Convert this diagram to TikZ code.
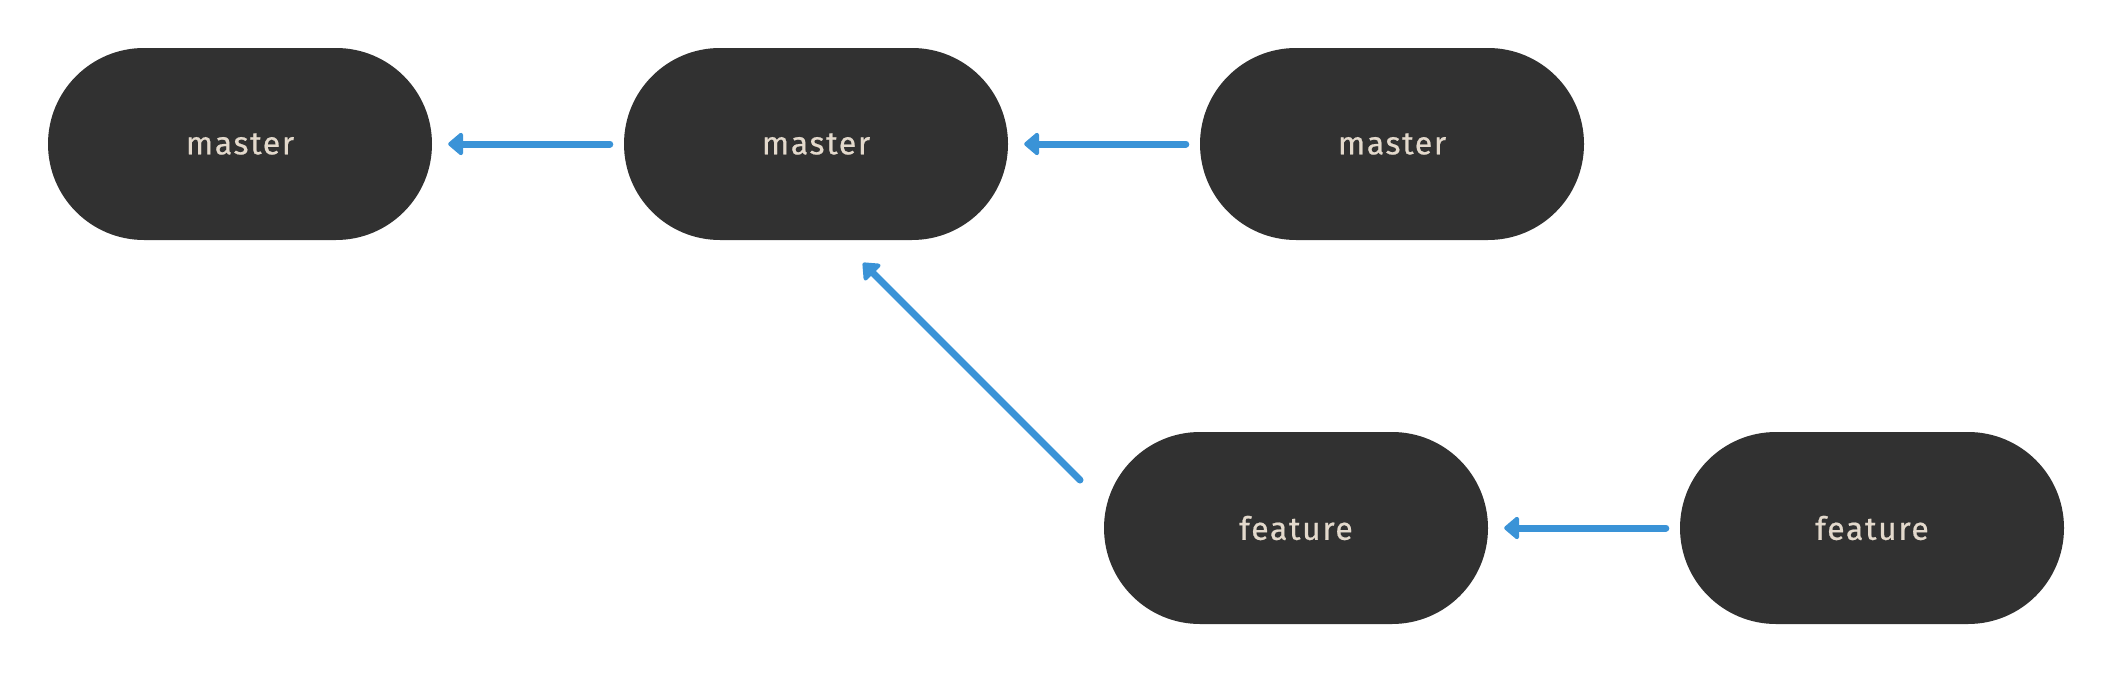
\documentclass[tikz,border=0pt]{standalone}
\usepackage{fontspec}
\setmainfont{Fira Sans}[LetterSpace=5,FakeBold=0.6]
\usetikzlibrary{arrows.meta,calc}
\definecolor{nodefill}{HTML}{313131}
\definecolor{labeltext}{HTML}{E3D9CC}
\definecolor{arrowblue}{HTML}{3A93D7}
\tikzset{
  commit/.style={rectangle, fill=nodefill, draw=none, rounded corners=96pt,
    minimum width=384pt, minimum height=192pt, inner sep=0pt,
    text=labeltext, font=\fontsize{32}{38}\selectfont},
  arr/.style={draw=arrowblue, line width=7pt, line cap=round,
    -{Triangle[length=16pt,width=26pt,round]}}
}
\begin{document}
\begin{tikzpicture}[x=1pt,y=-1pt]
\useasboundingbox (0,0) rectangle (2112,672);
\node[commit] (m1) at (240,144) {master};
\node[commit] (m2) at (816,144) {master};
\node[commit] (m3) at (1392,144) {master};
\node[commit] (f1) at (1296,528) {feature};
\node[commit] (f2) at (1872,528) {feature};
\coordinate (dtail) at ($(f1.center)+(-216,-48)$);
\coordinate (dtip) at ($(m2.center)+(47,119)$);
\draw[arr] ([xshift=-14pt]m2.west) -- ([xshift=16pt]m1.east);
\draw[arr] ([xshift=-14pt]m3.west) -- ([xshift=16pt]m2.east);
\draw[arr] ([xshift=-14pt]f2.west) -- ([xshift=16pt]f1.east);
\draw[arr] (dtail) -- (dtip);
\end{tikzpicture}
\end{document}
